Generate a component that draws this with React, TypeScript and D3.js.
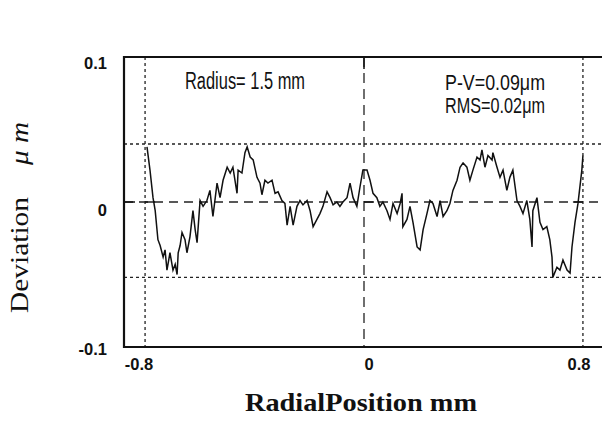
import React from "react";
import * as d3 from "d3";

const positions = [
  -0.793, -0.782, -0.771, -0.763, -0.753, -0.745, -0.734, -0.727, -0.720, -0.709,
  -0.698, -0.690, -0.683, -0.679, -0.672, -0.665, -0.654, -0.647, -0.636, -0.625,
  -0.617, -0.610, -0.599, -0.588, -0.574, -0.563, -0.552, -0.537, -0.526, -0.515,
  -0.500, -0.489, -0.479, -0.464, -0.460, -0.446, -0.435, -0.427, -0.416, -0.405,
  -0.391, -0.380, -0.373, -0.362, -0.351, -0.336, -0.325, -0.314, -0.300, -0.289,
  -0.281, -0.270, -0.259, -0.245, -0.234, -0.223, -0.208, -0.197, -0.186, -0.172,
  -0.161, -0.150, -0.135, -0.124, -0.113, -0.099, -0.088, -0.077, -0.062, -0.051,
  -0.040, -0.026, -0.015, -0.004, 0.011, 0.022, 0.033, 0.047, 0.058, 0.069,
  0.084, 0.095, 0.106, 0.121, 0.132, 0.139, 0.142, 0.157, 0.168, 0.179,
  0.194, 0.205, 0.216, 0.230, 0.241, 0.252, 0.267, 0.278, 0.289, 0.303,
  0.314, 0.325, 0.340, 0.351, 0.362, 0.376, 0.387, 0.398, 0.413, 0.424,
  0.431, 0.442, 0.453, 0.468, 0.471, 0.486, 0.497, 0.508, 0.522, 0.533,
  0.544, 0.559, 0.570, 0.581, 0.595, 0.606, 0.614, 0.617, 0.632, 0.643,
  0.654, 0.668, 0.679, 0.687, 0.690, 0.705, 0.716, 0.727, 0.742, 0.753,
  0.760, 0.771, 0.782, 0.796, 0.800,
];

const deviation = [
  0.038, 0.022, 0.003, -0.006, -0.026, -0.030, -0.038, -0.033, -0.047, -0.035,
  -0.047, -0.043, -0.050, -0.035, -0.030, -0.021, -0.026, -0.035, -0.024, -0.006,
  -0.019, -0.028, 0.001, -0.003, 0.001, 0.008, -0.010, 0.013, 0.003, 0.015,
  0.024, 0.020, 0.024, 0.006, 0.022, 0.020, 0.034, 0.038, 0.031, 0.029,
  0.017, 0.013, 0.005, 0.015, 0.013, 0.015, 0.006, 0.007, 0.001, -0.001,
  -0.016, -0.003, -0.016, -0.003, 0.001, -0.002, 0.001, -0.006, -0.017, -0.012,
  -0.008, -0.003, 0.007, 0.003, -0.002, 0.000, -0.003, 0.000, 0.003, 0.013,
  0.003, -0.003, 0.010, 0.022, 0.022, 0.015, 0.006, 0.003, -0.003, 0.000,
  -0.006, -0.012, -0.001, -0.008, -0.001, 0.006, -0.017, -0.012, -0.003, -0.014,
  -0.031, -0.033, -0.019, -0.008, 0.001, -0.001, -0.010, 0.001, -0.010, -0.006,
  -0.001, 0.008, 0.015, 0.024, 0.027, 0.024, 0.015, 0.022, 0.031, 0.029,
  0.036, 0.024, 0.032, 0.029, 0.034, 0.024, 0.017, 0.022, 0.008, 0.017,
  0.022, 0.001, -0.003, -0.008, 0.001, -0.012, -0.031, -0.006, 0.003, -0.014,
  -0.019, -0.017, -0.026, -0.038, -0.052, -0.045, -0.047, -0.040, -0.047, -0.049,
  -0.031, -0.014, -0.001, 0.022, 0.032,
];

const xTickValues = [-0.8, 0, 0.8];
const xTickLabels = ["-0.8", "0", "0.8"];
const yTickValues = [0.1, 0, -0.1];
const yTickLabels = ["0.1", "0", "-0.1"];
const peakLevel = 0.04;
const valleyLevel = -0.052;
const radiusText = "Radius= 1.5 mm";
const pvText = "P-V=0.09\u03bcm";
const rmsText = "RMS=0.02\u03bcm";
const xTitle = "RadialPosition mm";
const yTitle = "Deviation";
const yUnit = "\u03bc m";

export default function App() {
  const W = 602;
  const H = 421;
  const left = 124;
  const right = 604;
  const top = 57;
  const bottom = 347;
  const x = d3.scaleLinear().domain([-0.877, 0.877]).range([left, right]);
  const y = d3.scaleLinear().domain([-0.1, 0.1]).range([bottom, top]);
  const pts: [number, number][] = positions.map((p, i) => [p, deviation[i]]);
  const line = d3
    .line<[number, number]>()
    .x((d) => x(d[0]))
    .y((d) => y(d[1]));

  const gothic = "'Liberation Sans', 'DejaVu Sans', sans-serif";
  const serif = "'Liberation Serif', 'DejaVu Serif', serif";

  return (
    <svg
      width={W}
      height={H}
      viewBox={`0 0 ${W} ${H}`}
      style={{ position: "absolute", left: 0, top: 0, background: "#fff" }}
    >
      <rect x={0} y={0} width={W} height={H} fill="#fff" />
      {[peakLevel, valleyLevel].map((v, i) => (
        <line
          key={"h" + i}
          x1={left}
          x2={W}
          y1={y(v)}
          y2={y(v)}
          stroke="#222"
          strokeWidth={1.3}
          strokeDasharray="3,3"
        />
      ))}
      {[-0.8, 0.8].map((v, i) => (
        <line
          key={"v" + i}
          x1={x(v)}
          x2={x(v)}
          y1={top}
          y2={bottom}
          stroke="#222"
          strokeWidth={1.3}
          strokeDasharray="3,3"
        />
      ))}
      <line
        x1={left}
        x2={W}
        y1={y(0)}
        y2={y(0)}
        stroke="#222"
        strokeWidth={1.3}
        strokeDasharray="9,6"
      />
      <line
        x1={x(0)}
        x2={x(0)}
        y1={top}
        y2={bottom}
        stroke="#222"
        strokeWidth={1.3}
        strokeDasharray="10,6"
      />
      <line x1={left} x2={left + 11} y1={y(0)} y2={y(0)} stroke="#111" strokeWidth={1.5} />
      <line x1={x(0)} x2={x(0)} y1={top} y2={top + 12} stroke="#111" strokeWidth={1.5} />
      <line x1={x(0)} x2={x(0) + 10} y1={y(0)} y2={y(0)} stroke="#111" strokeWidth={1.4} />
      <line x1={x(0.8) - 10} x2={x(0.8)} y1={y(0)} y2={y(0)} stroke="#111" strokeWidth={1.4} />
      <line x1={x(-0.8)} x2={x(-0.8) + 10} y1={y(0)} y2={y(0)} stroke="#111" strokeWidth={1.4} />
      <path
        d={line(pts) || ""}
        fill="none"
        stroke="#111"
        strokeWidth={1.5}
        strokeLinejoin="miter"
      />
      <path
        d={`M${W},${top}H${left}V${bottom}H${W}`}
        fill="none"
        stroke="#111"
        strokeWidth={2.2}
      />
      {yTickValues.map((v, i) => (
        <text
          key={"yt" + i}
          x={107}
          y={y(v) + (i === 0 ? 12 : i === 1 ? 14 : 8)}
          textAnchor="end"
          fontFamily={gothic}
          fontWeight="bold"
          fontSize={16.5}
          fill="#111"
        >
          {yTickLabels[i]}
        </text>
      ))}
      {xTickValues.map((v, i) => (
        <text
          key={"xt" + i}
          x={x(v) + (i === 0 ? -6 : i === 1 ? 5 : -4)}
          y={370}
          textAnchor="middle"
          fontFamily={gothic}
          fontWeight="bold"
          fontSize={16.5}
          fill="#111"
        >
          {xTickLabels[i]}
        </text>
      ))}
      <text
        x={185}
        y={89}
        fontFamily={gothic}
        fontSize={23}
        textLength={120}
        lengthAdjust="spacingAndGlyphs"
        fill="#111"
      >
        {radiusText}
      </text>
      <text
        x={445}
        y={90}
        fontFamily={gothic}
        fontSize={22}
        textLength={100}
        lengthAdjust="spacingAndGlyphs"
        fill="#111"
      >
        {pvText}
      </text>
      <text
        x={445}
        y={113}
        fontFamily={gothic}
        fontSize={22}
        textLength={100}
        lengthAdjust="spacingAndGlyphs"
        fill="#111"
      >
        {rmsText}
      </text>
      <text
        x={245}
        y={411}
        fontFamily={serif}
        fontWeight="bold"
        fontSize={26}
        textLength={232}
        lengthAdjust="spacingAndGlyphs"
        fill="#111"
      >
        {xTitle}
      </text>
      <text
        transform="translate(28,313) rotate(-90)"
        fontFamily={serif}
        fontSize={26}
        textLength={116}
        lengthAdjust="spacingAndGlyphs"
        fill="#111"
      >
        {yTitle}
      </text>
      <text
        transform="translate(28,165) rotate(-90)"
        fontFamily={serif}
        fontSize={26}
        fontStyle="italic"
        textLength={43}
        lengthAdjust="spacingAndGlyphs"
        fill="#111"
      >
        {yUnit}
      </text>
    </svg>
  );
}
